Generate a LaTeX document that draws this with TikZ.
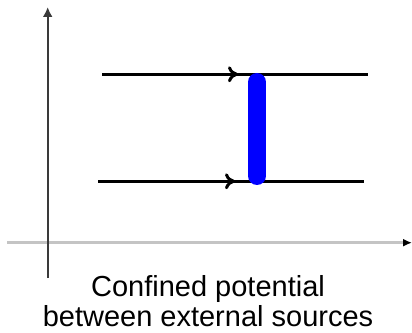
\documentclass[tikz,border=0pt]{standalone}
\usepackage{fontspec}
\setmainfont{Liberation Sans}
\usetikzlibrary{arrows.meta}
\definecolor{axisdark}{HTML}{3A3A3A}
\definecolor{axislight}{HTML}{C4C4C4}
\begin{document}
\begin{tikzpicture}[x=1pt,y=1pt,
  vaxis/.style={draw=axisdark,line width=2pt,-{Latex[length=10pt,width=10pt]}},
  haxis/.style={draw=axislight,line width=3.5pt,-{Latex[length=9pt,width=8pt,color=black]}},
  wline/.style={draw=black,line width=3.3pt},
  midarrow/.style={wline,-{To[length=10pt,width=16pt,line width=3pt]}},
  bar/.style={draw=blue,line width=18pt,line cap=round},
  lbl/.style={inner sep=0pt,anchor=base,font=\fontsize{29}{31}\selectfont}]
\useasboundingbox (0,0) rectangle (412,332);
% axes
\coordinate (vb) at (47.7,54);
\coordinate (vt) at (47.7,325);
\coordinate (hl) at (7,89.3);
\coordinate (hr) at (412,89.3);
\draw[haxis] (hl) -- (hr);
\draw[vaxis] (vb) -- (vt);
% top line
\coordinate (t1) at (102,257.7);
\coordinate (tm) at (238,257.7);
\coordinate (t2) at (368,257.7);
\draw[wline] (t1) -- (t2);
\draw[midarrow] (t1) -- (tm);
% bottom line
\coordinate (b1) at (98,150.7);
\coordinate (bm) at (235,150.7);
\coordinate (b2) at (364,150.7);
\draw[wline] (b1) -- (b2);
\draw[midarrow] (b1) -- (bm);
% blue bar
\coordinate (ct) at (257,250);
\coordinate (cb) at (257,156);
\draw[bar] (cb) -- (ct);
% caption
\node[lbl] (l1) at (208,36) {Confined potential};
\node[lbl] (l2) at (208,5.5) {between external sources};
\end{tikzpicture}
\end{document}
